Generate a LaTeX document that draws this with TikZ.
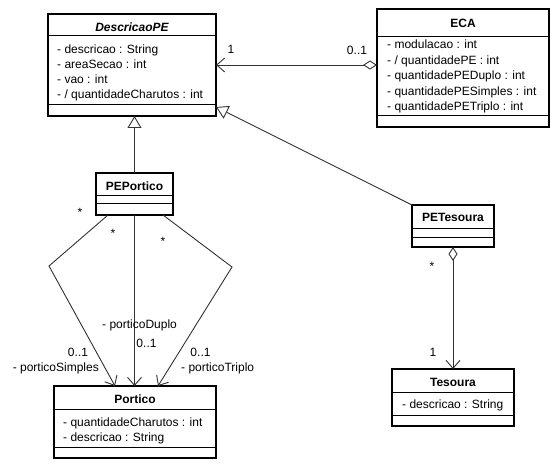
\documentclass[tikz,border=0pt]{standalone}
\usepackage{fontspec}
\setmainfont{Liberation Sans}
\usetikzlibrary{arrows.meta,calc}
\begin{document}
\begin{tikzpicture}[x=1pt,y=-1pt,
  font=\fontsize{12}{15}\selectfont,
  cls/.style={draw=black, line width=2pt, anchor=north west, inner sep=0pt, outer sep=0pt},
  sepl/.style={line width=1pt},
  ttl/.style={anchor=base, inner sep=0pt, font=\fontsize{12}{15}\selectfont\bfseries},
  attr/.style={anchor=base west, inner sep=0pt},
  lbl/.style={anchor=base, inner sep=0pt},
  conn/.style={line width=0.9pt, draw=black!80},
  gen/.style={conn, -{Triangle[open, length=12pt, width=14pt, fill=white]}},
  nav/.style={conn, -{Straight Barb[length=8pt, width=14pt]}},
  agg/.style={conn, {Diamond[open, length=14pt, width=9pt, fill=white]}-{Straight Barb[length=8pt, width=14pt]}},
]
\fill[white] (0,0) rectangle (560,468);
\useasboundingbox (0,0) rectangle (560,468);

% classes
\node[cls, minimum width=168pt, minimum height=102pt] (D) at (48,14) {};
\node[cls, minimum width=172pt, minimum height=118pt] (E) at (377,9) {};
\node[cls, minimum width=77pt, minimum height=42pt] (PP) at (96,173) {};
\node[cls, minimum width=82pt, minimum height=42pt] (PT) at (412,205) {};
\node[cls, minimum width=162pt, minimum height=72pt] (P) at (54,386) {};
\node[cls, minimum width=122pt, minimum height=57pt] (T) at (392,369) {};

% separators
\draw[sepl] ($(D.north west)+(0,22)$) -- ($(D.north east)+(0,22)$);
\draw[sepl] ($(D.north west)+(0,91)$) -- ($(D.north east)+(0,91)$);
\draw[sepl] ($(E.north west)+(0,28)$) -- ($(E.north east)+(0,28)$);
\draw[sepl] ($(E.north west)+(0,107)$) -- ($(E.north east)+(0,107)$);
\draw[sepl] ($(PP.north west)+(0,23)$) -- ($(PP.north east)+(0,23)$);
\draw[sepl] ($(PP.north west)+(0,31)$) -- ($(PP.north east)+(0,31)$);
\draw[sepl] ($(PT.north west)+(0,23)$) -- ($(PT.north east)+(0,23)$);
\draw[sepl] ($(PT.north west)+(0,32)$) -- ($(PT.north east)+(0,32)$);
\draw[sepl] ($(P.north west)+(0,23)$) -- ($(P.north east)+(0,23)$);
\draw[sepl] ($(P.north west)+(0,61)$) -- ($(P.north east)+(0,61)$);
\draw[sepl] ($(T.north west)+(0,23)$) -- ($(T.north east)+(0,23)$);
\draw[sepl] ($(T.north west)+(0,46)$) -- ($(T.north east)+(0,46)$);

% titles
\node[ttl, font=\fontsize{12}{15}\selectfont\bfseries\itshape] (Dt) at (132,31.5) {DescricaoPE};
\node[ttl] (Et) at (463,27.7) {ECA};
\node[ttl] (PPt) at (134.5,190) {PEPortico};
\node[ttl] (PTt) at (453,222) {PETesoura};
\node[ttl] (Pt) at (135,403) {Portico};
\node[ttl] (Tt) at (453,386) {Tesoura};

% attributes
\node[attr] (d1) at (57,54) {- descricao : String};
\node[attr] (d2) at (57,69) {- areaSecao : int};
\node[attr] (d3) at (57,84) {- vao : int};
\node[attr] (d4) at (57,99) {- / quantidadeCharutos : int};
\node[attr] (e1) at (387,49) {- modulacao : int};
\node[attr] (e2) at (387,64.4) {- / quantidadePE : int};
\node[attr] (e3) at (387,79.8) {- quantidadePEDuplo : int};
\node[attr] (e4) at (387,95.2) {- quantidadePESimples : int};
\node[attr] (e5) at (387,110.6) {- quantidadePETriplo : int};
\node[attr] (p1) at (63,426) {- quantidadeCharutos : int};
\node[attr] (p2) at (63,441) {- descricao : String};
\node[attr] (t1) at (402,408) {- descricao : String};

% connectors
\draw[agg] (E.west |- D.east) -- (D.east);
\draw[gen] (PP.north) -- (PP.north |- D.south);
\draw[gen] (PT.north west) -- (D);
\coordinate (bl) at (49,266);
\coordinate (br) at (232,267);
\draw[nav] ($(PP.south west)+(12,0)$) -- (bl) -- ($(P.north west)+(61,0)$);
\draw[nav] (PP.south) -- (PP.south |- P.north);
\draw[nav] ($(PP.south west)+(67,0)$) -- (br) -- ($(P.north west)+(104,0)$);
\draw[conn, {Diamond[open, length=14pt, width=9pt, fill=white]}-{Straight Barb[length=8pt, width=14pt]}] (PT.south) -- (T.north);

% labels
\node[lbl] (l1) at (231,54) {1};
\node[lbl] (l2) at (357,55) {0..1};
\node[lbl] (s1) at (80,217) {*};
\node[lbl] (s2) at (113,237) {*};
\node[lbl] (s3) at (163,245) {*};
\node[lbl] (s4) at (432,270) {*};
\node[attr] (rd) at (102,328) {- porticoDuplo};
\node[lbl] (md) at (146.5,347) {0..1};
\node[lbl] (ms) at (78,356) {0..1};
\node[anchor=base east, inner sep=0pt] (rs) at (99,371) {- porticoSimples};
\node[lbl] (mt) at (200.5,356) {0..1};
\node[attr] (rt) at (181,371) {- porticoTriplo};
\node[lbl] (l3) at (433,356) {1};
\end{tikzpicture}
\end{document}
